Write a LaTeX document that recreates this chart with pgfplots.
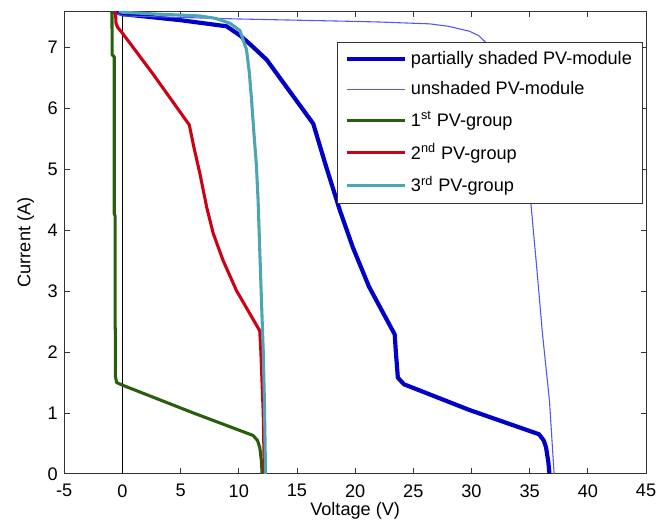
\documentclass[border=0pt]{standalone}
\usepackage{pgfplots}
\pgfplotsset{compat=1.18}
\usepackage{fontspec}
\setmainfont{Liberation Sans}
\definecolor{cThick}{RGB}{0,0,200}
\definecolor{cThin}{RGB}{85,85,245}
\definecolor{cGreen}{RGB}{40,95,10}
\definecolor{cRed}{RGB}{205,0,20}
\definecolor{cCyan}{RGB}{75,165,178}
\begin{document}
\begin{tikzpicture}
\begin{axis}[
  at={(0,0)}, anchor=south west,
  scale only axis,
  width=320.6pt, height=255pt,
  xmin=-5, xmax=45, ymin=0, ymax=7.6,
  xtick={-5,0,...,45}, ytick={0,1,...,7},
  tick align=inside,
  major tick length=3pt,
  /pgf/number format/assume math mode=true,
  xticklabel shift=2.3pt,
  xlabel={Voltage (V)}, ylabel={Current (A)},
  xlabel style={at={(rel axis cs:0.5,0)}, anchor=center, yshift=-20.4pt},
  ylabel style={at={(rel axis cs:0,0.5)}, anchor=center, yshift=21.2pt},
  axis line style={black!80},
  every tick/.style={black!80},
  legend cell align=left,
  legend style={at={(0.995,0.934)}, anchor=north east, draw=black!80, row sep=3.9pt, inner xsep=4pt, inner ysep=3pt, font=\normalsize},
  legend image code/.code={\draw[#1] (0pt,0pt) -- (32pt,0pt);},
]
\addplot[black, line width=0.5pt, forget plot] coordinates {(0,0) (0,7.6)};
% partially shaded PV-module
\addplot[cThick, line width=2.3pt, line join=round] coordinates {
(-1,7.6) (0,7.55) (5,7.45) (8.95,7.35) (10.1,7.2) (11,7.05) (12.4,6.8) (16.4,5.75)
(17.5,5.05) (18.7,4.32) (19.8,3.72) (21.2,3.07) (23.4,2.29) (23.5,2.0) (23.67,1.58)
(24.2,1.47) (29.8,1.05) (35.8,0.65) (36.2,0.55) (36.4,0.44) (36.6,0.2) (36.7,0)
};
\addlegendentry{partially shaded PV-module}
% unshaded PV-module
\addplot[cThin, line width=0.6pt] coordinates {
(-1,7.6) (0,7.52) (10,7.47) (20,7.43) (22.1,7.42) (26.4,7.39) (28,7.35) (29.8,7.27)
(30.6,7.2) (31.25,7.08) (32,6.9) (32.7,6.55) (33.4,6.1) (34.0,5.6) (34.6,5.05) (35.1,4.45)
(35.6,3.4) (36.1,2.3) (36.4,1.75) (36.7,1.2) (36.9,0.6) (37.1,0)
};
\addlegendentry{unshaded PV-module}
% 1st PV-group
\addplot[cGreen, line width=1.7pt, line join=round] coordinates {
(-0.9,7.6) (-0.88,6.88) (-0.7,6.85) (-0.7,4.27) (-0.62,4.23) (-0.62,2.4) (-0.6,2.3)
(-0.6,1.6) (-0.5,1.5) (-0.05,1.46) (6.09,1.0) (11.23,0.63) (11.6,0.55) (11.8,0.44)
(11.95,0.2) (12.0,0)
};
\addlegendentry{1\textsuperscript{st} PV-group}
% 2nd PV-group
\addplot[cRed, line width=1.7pt, line join=round] coordinates {
(-0.6,7.6) (-0.55,7.4) (-0.4,7.33) (-0.05,7.25) (2.5,6.6) (5.75,5.73) (6.1,5.4)
(6.66,4.93) (7.24,4.38) (7.8,3.95) (8.66,3.5) (9.8,3.01) (10.95,2.63) (11.8,2.35)
(11.9,2.0) (12.0,1.5) (12.1,1.0) (12.2,0)
};
\addlegendentry{2\textsuperscript{nd} PV-group}
% 3rd PV-group
\addplot[cCyan, line width=1.7pt, line join=round] coordinates {
(-0.3,7.6) (0,7.58) (3,7.55) (6.66,7.52) (8,7.48) (9.24,7.4) (10.1,7.28) (10.67,6.96)
(10.9,6.6) (11.1,6.14) (11.3,5.6) (11.52,5.05) (11.66,4.49) (11.95,2.84) (12.1,2.03)
(12.2,1.2) (12.3,0)
};
\addlegendentry{3\textsuperscript{rd} PV-group}
\end{axis}
\path (-35.4pt,-27pt) rectangle (334.9pt,261.1pt);
\end{tikzpicture}
\end{document}
